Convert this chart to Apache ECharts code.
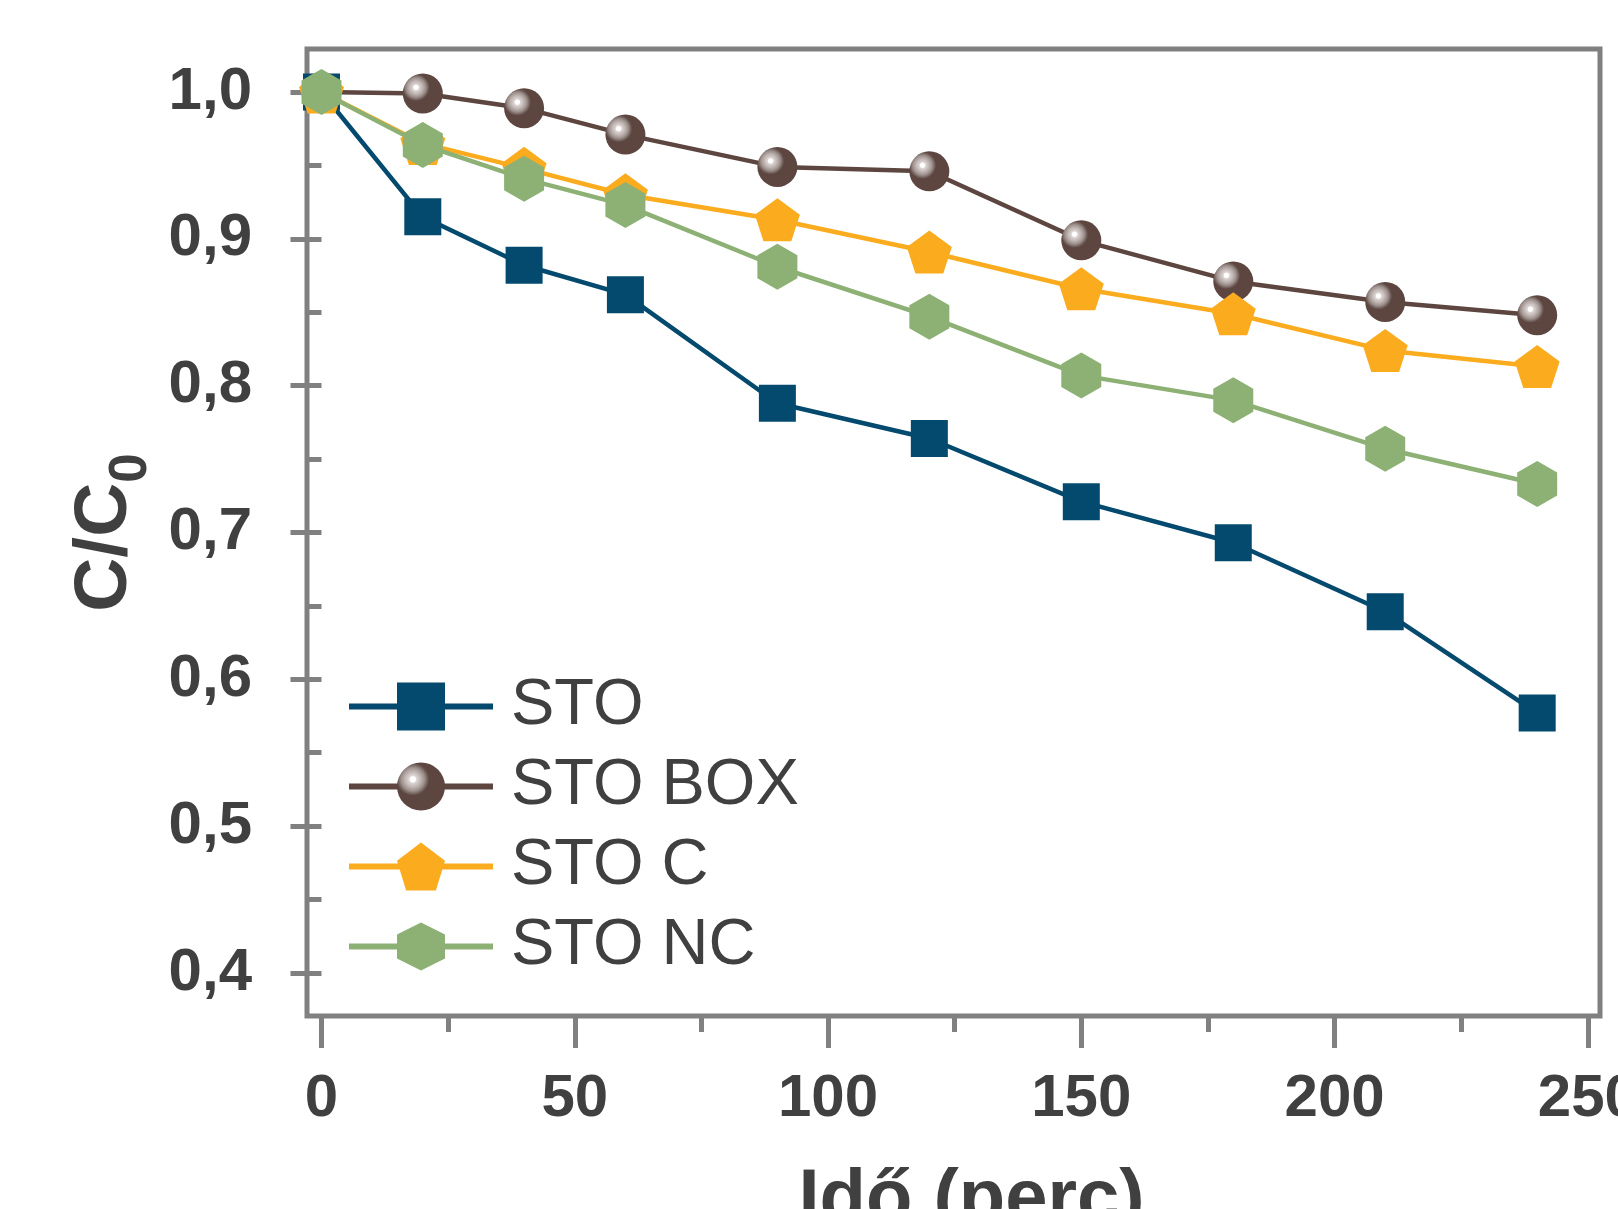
<!DOCTYPE html>
<html>
<head>
<meta charset="utf-8">
<title>C/C0 - Idő (perc)</title>
<script src="https://cdn.jsdelivr.net/npm/echarts@6/dist/echarts.min.js"></script>
<style>
html, body { margin: 0; padding: 0; background: #fff; }
#main { width: 1618px; height: 1209px; }
</style>
</head>
<body>
<div id="main"></div>
<script>
// minták (perc) és C/C0 értékek
var times = [0, 20, 40, 60, 90, 120, 150, 180, 210, 240];
var sto   = [1.000, 0.915, 0.882, 0.862, 0.788, 0.764, 0.721, 0.693, 0.646, 0.577];
var stoBox = [1.000, 0.999, 0.989, 0.971, 0.949, 0.946, 0.899, 0.871, 0.857, 0.848];
var stoC  = [1.000, 0.965, 0.948, 0.930, 0.913, 0.891, 0.866, 0.849, 0.824, 0.813];
var stoNC = [1.000, 0.964, 0.941, 0.923, 0.881, 0.847, 0.807, 0.790, 0.757, 0.733];

var xTicks = [0, 50, 100, 150, 200, 250];
var xMinor = [25, 75, 125, 175, 225];
var yTicks = [0.4, 0.5, 0.6, 0.7, 0.8, 0.9, 1.0];
var yMinor = [0.45, 0.55, 0.65, 0.75, 0.85, 0.95];

var FONT = '"Liberation Sans", Arial, sans-serif';
var GRAY = '#808080';
var TXT = '#404040';

function pairs(arr) {
    return times.map(function (t, i) { return [t, arr[i]]; });
}

var myChart = echarts.init(document.getElementById('main'));

// gömb jelölő: barna, bal felső fényfolttal
var sphere = {
    type: 'radial', x: 0.33, y: 0.35, r: 0.34,
    colorStops: [
        {offset: 0, color: '#ffffff'},
        {offset: 0.16, color: '#ffffff'},
        {offset: 0.24, color: '#dcd5d3'},
        {offset: 0.5, color: '#bdb2af'},
        {offset: 0.72, color: '#9c8f8b'},
        {offset: 0.86, color: '#7a6a66'},
        {offset: 1, color: '#5d4540'}
    ]
};

var tickStyle = {color: GRAY, width: 5};

var option = {
    animation: false,
    grid: {
        left: 307, top: 49, width: 1293, height: 967,
        show: true, borderColor: GRAY, borderWidth: 5,
        outerBoundsMode: 'none'
    },
    legend: {
        orient: 'vertical',
        left: 346, top: 674, padding: 0,
        itemWidth: 144, itemHeight: 60, itemGap: 15,
        lineStyle: {width: 6},
        textStyle: {fontSize: 65, color: TXT, fontFamily: FONT, lineHeight: 60, padding: [0, 0, 0, 13]},
        data: ['STO', 'STO BOX', 'STO C', 'STO NC']
    },
    xAxis: [{
        type: 'value', min: -2.86, max: 252.4,
        position: 'bottom',
        axisLine: {show: false},
        splitLine: {show: false},
        axisTick: {show: true, length: 32, lineStyle: tickStyle, customValues: xTicks},
        axisLabel: {
            customValues: xTicks, margin: 53,
            fontSize: 60, fontWeight: 'bold', color: TXT, fontFamily: FONT
        },
        name: 'Idő (perc)',
        nameLocation: 'middle',
        nameGap: 147,
        nameTextStyle: {fontSize: 76, fontWeight: 'bold', color: TXT, fontFamily: FONT, padding: [0, 0, 0, 36]}
    }, {
        type: 'value', min: -2.86, max: 252.4,
        position: 'bottom',
        axisLine: {show: false},
        splitLine: {show: false},
        axisTick: {show: true, length: 16, lineStyle: tickStyle, customValues: xMinor},
        axisLabel: {show: false}
    }],
    yAxis: [{
        type: 'value', min: 0.3707, max: 1.0293,
        position: 'left',
        axisLine: {show: false},
        splitLine: {show: false},
        axisTick: {show: true, length: 31, lineStyle: tickStyle, customValues: yTicks},
        axisLabel: {
            customValues: yTicks, margin: 55,
            fontSize: 60, fontWeight: 'bold', color: TXT, fontFamily: FONT,
            formatter: function (v) { return v.toFixed(1).replace('.', ','); }
        },
        name: '{m|C/C}{s|0}',
        nameLocation: 'middle',
        nameGap: 149,
        nameTextStyle: {
            rich: {
                m: {fontSize: 75, fontWeight: 'bold', color: TXT, fontFamily: FONT, verticalAlign: 'bottom', padding: [0, 0, 15, 0]},
                s: {fontSize: 53, fontWeight: 'bold', color: TXT, fontFamily: FONT, verticalAlign: 'bottom'}
            }
        }
    }, {
        type: 'value', min: 0.3707, max: 1.0293,
        position: 'left',
        axisLine: {show: false},
        splitLine: {show: false},
        axisTick: {show: true, length: 15, lineStyle: tickStyle, customValues: yMinor},
        axisLabel: {show: false}
    }],
    series: [{
        name: 'STO', type: 'line', data: pairs(sto),
        symbol: 'rect', symbolSize: 37,
        itemStyle: {color: '#034a6e'},
        lineStyle: {color: '#034a6e', width: 4.5}
    }, {
        name: 'STO BOX', type: 'line', data: pairs(stoBox),
        symbol: 'circle', symbolSize: 40,
        itemStyle: {color: sphere},
        lineStyle: {color: '#5d4540', width: 4.5}
    }, {
        name: 'STO C', type: 'line', data: pairs(stoC),
        symbol: 'path://M0,-100 L95.1,-30.9 L58.8,80.9 L-58.8,80.9 L-95.1,-30.9 Z',
        symbolSize: [45, 43],
        itemStyle: {color: '#fbab1e'},
        lineStyle: {color: '#fbab1e', width: 4.5}
    }, {
        name: 'STO NC', type: 'line', data: pairs(stoNC),
        symbol: 'path://M0,-100 L86.6,-50 L86.6,50 L0,100 L-86.6,50 L-86.6,-50 Z',
        symbolSize: [40, 46],
        itemStyle: {color: '#8db174'},
        lineStyle: {color: '#8db174', width: 4.5}
    }]
};

option.series.forEach(function (s) {
    s.emphasis = {disabled: true};
    s.z = 2;
});

myChart.setOption(option);
</script>
</body>
</html>
